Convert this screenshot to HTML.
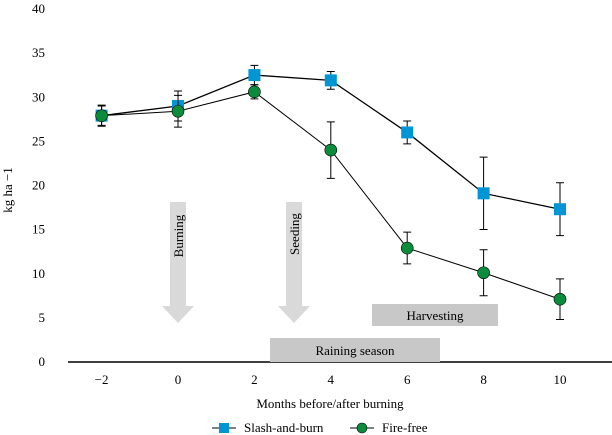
<!DOCTYPE html>
<html><head><meta charset="utf-8"><style>
body{margin:0;background:#fff}
svg{display:block;font-family:"Liberation Serif",serif}
</style></head><body>
<svg width="612" height="435">
<g id="ylabels"></g><g id="xlabels"></g>
<line x1="68" y1="362" x2="612" y2="362" stroke="#000" stroke-width="1.5"/>
<text x="12" y="190" transform="rotate(-90 12 190)" font-size="13" text-anchor="middle">kg ha −1</text>
<text x="330" y="408" font-size="13" text-anchor="middle">Months before/after burning</text>
<g><polygon points="170,202 186,202 186,306 194,306 178,323 162,306 170,306" fill="#d9d9d9"/><text x="183" y="236" transform="rotate(-90 183 236)" font-size="13" text-anchor="middle">Burning</text></g>
<g><polygon points="286,202 302,202 302,306 310,306 294,323 278,306 286,306" fill="#d9d9d9"/><text x="299" y="234" transform="rotate(-90 299 234)" font-size="13" text-anchor="middle">Seeding</text></g>
<g><rect x="372" y="304" width="126" height="22" fill="#c8c8c8"/><text x="435" y="320" font-size="13" text-anchor="middle">Harvesting</text></g>
<g><rect x="270" y="338" width="170" height="24" fill="#c8c8c8"/><text x="355" y="355" font-size="13" text-anchor="middle">Raining season</text></g>
<g id="plot"></g>
<g font-size="13">
<g><line x1="212" y1="428" x2="236" y2="428" stroke="#000"/><rect x="219" y="423" width="10" height="10" fill="#0096d6"/><text x="244" y="432">Slash-and-burn</text></g>
<g><line x1="350" y1="428" x2="374" y2="428" stroke="#000"/><circle cx="362" cy="428" r="5" fill="#0a8c3c" stroke="#000" stroke-width="0.6"/><text x="382" y="432">Fire-free</text></g>
</g>
</svg>
<script>
const months=[-2,0,2,4,6,8,10];
const slash=[27.8,28.9,32.4,31.8,25.9,19.0,17.2];
const slashErr=[1.2,1.7,1.1,1.0,1.3,4.1,3.0];
const fire=[27.8,28.3,30.5,23.9,12.8,10.0,7.0];
const fireErr=[1.1,1.8,0.8,3.2,1.8,2.6,2.3];
const yTicks=[0,5,10,15,20,25,30,35,40];
const xTicks=["−2","0","2","4","6","8","10"];
const NS="http://www.w3.org/2000/svg";
const X=v=>178+38.2*v, Y=v=>361-8.825*v;
function mk(t,a,p){const e=document.createElementNS(NS,t);for(const k in a)e.setAttribute(k,a[k]);p.appendChild(e);return e;}
const yl=document.getElementById('ylabels');
yTicks.forEach(v=>{const t=mk('text',{x:45,y:Y(v)+5,'font-size':13,'text-anchor':'end'},yl);t.textContent=v;

});
const xl=document.getElementById('xlabels');
months.forEach((m,i)=>{const t=mk('text',{x:X(m),y:384,'font-size':13,'text-anchor':'middle'},xl);t.textContent=xTicks[i];

});
const plot=document.getElementById('plot');
function series(vals,errs,name,sq,w){
 const g=mk('g',{},plot);
 
 
 mk('polyline',{points:months.map((m,i)=>X(m)+','+Y(vals[i])).join(' '),fill:'none',stroke:'#000','stroke-width':w},g);
 months.forEach((m,i)=>{const x=X(m),t=Y(vals[i]+errs[i]),b=Y(vals[i]-errs[i]);
  const e=mk('path',{d:`M${x},${t}V${b}M${x-4},${t}H${x+4}M${x-4},${b}H${x+4}`,stroke:'#000','stroke-width':1},g);
  
  });
 months.forEach((m,i)=>{let p;
  if(sq)p=mk('rect',{x:X(m)-6,y:Y(vals[i])-6,width:12,height:12,fill:'#0096d6'},g);
  else p=mk('circle',{cx:X(m),cy:Y(vals[i]),r:6,fill:'#0a8c3c',stroke:'#000','stroke-width':0.6},g);
  
  });
}
series(slash,slashErr,'slash-and-burn',true,1.3);
series(fire,fireErr,'fire-free',false,1);
</script>
</body></html>
